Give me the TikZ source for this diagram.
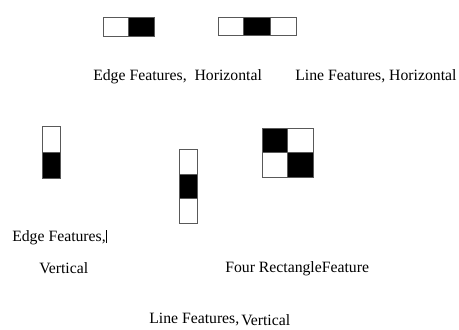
\documentclass[tikz,border=0pt]{standalone}
\usepackage{fontspec}
\setmainfont{Liberation Serif}
\begin{document}
\begin{tikzpicture}[x=0.75pt,y=-0.75pt,
  wcell/.style={draw=black!65,line width=0.75pt,fill=white},
  bcell/.style={draw=black!65,line width=0.75pt,fill=black},
  lbl/.style={anchor=base west,inner sep=0pt,font=\fontsize{11.8}{14}\selectfont}]
\useasboundingbox[fill=white] (0,0) rectangle (459,329);
% Edge features, horizontal
\draw[wcell] (103,17) rectangle (128,36);
\draw[bcell] (128,17) rectangle (154,36);
% Line features, horizontal
\draw[wcell] (218,17) rectangle (243,35);
\draw[bcell] (243,17) rectangle (270,35);
\draw[wcell] (270,17) rectangle (296,35);
% Edge features, vertical
\draw[wcell] (42,126) rectangle (60,152);
\draw[bcell] (42,152) rectangle (60,178);
% Line features, vertical
\draw[wcell] (179,149) rectangle (197,174);
\draw[bcell] (179,174) rectangle (197,198);
\draw[wcell] (179,198) rectangle (197,223);
% Four rectangle feature
\draw[bcell] (262,128) rectangle (287,152);
\draw[wcell] (287,128) rectangle (313,152);
\draw[wcell] (262,152) rectangle (287,177);
\draw[bcell] (287,152) rectangle (313,177);
% labels
\node[lbl] (eh) at (93,80) {Edge Features,\ \ Horizontal};
\node[lbl] (lh) at (295,80) {Line Features, Horizontal};
\node[lbl] (ev1) at (12,241) {Edge Features,};
\draw[line width=1pt] (106.5,230) -- (106.5,243);
\node[lbl] (ev2) at (39,273) {Vertical};
\node[lbl] (fr) at (225,272) {Four RectangleFeature};
\node[lbl] (lv1) at (149,323) {Line Features,};
\node[lbl] (lv2) at (241,325) {Vertical};
\end{tikzpicture}
\end{document}
